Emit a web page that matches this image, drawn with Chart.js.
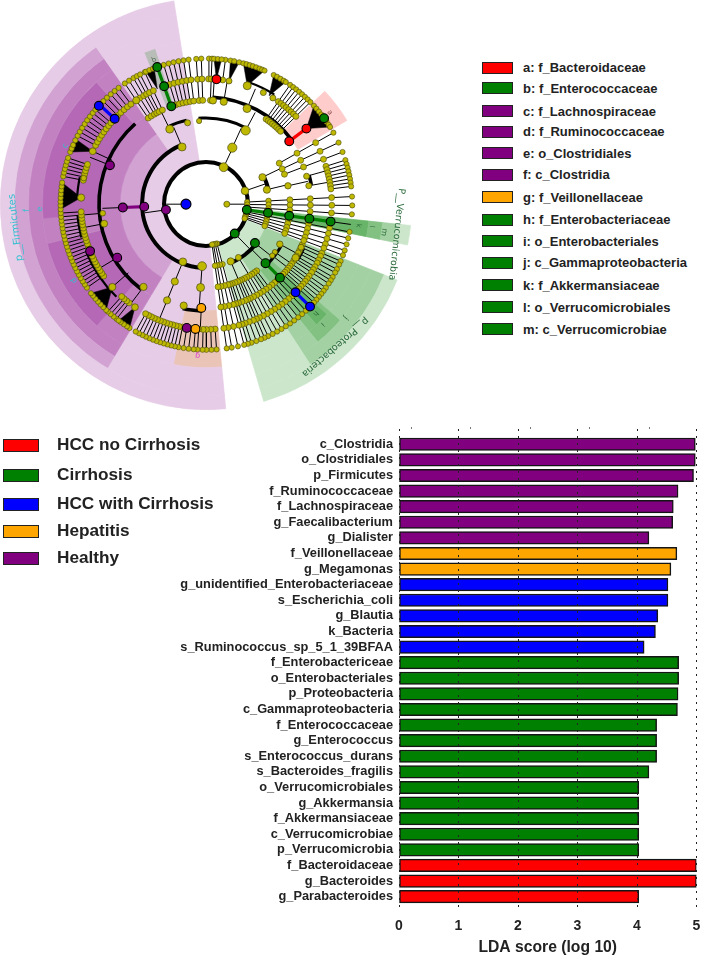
<!DOCTYPE html>
<html>
<head>
<meta charset="utf-8">
<title>LEfSe cladogram and LDA scores</title>
<script src="https://cdn.jsdelivr.net/npm/chart.js@4"></script>
<style>
	html, body {margin: 0; padding: 0; background: #fff; overflow: hidden;}
	body {position: relative; width: 709px; height: 957px; font-family: "Liberation Sans", Arial, sans-serif;}
	canvas {position: absolute;}
	.swatch {position: absolute; box-sizing: border-box; border: 1.5px solid #222;}
	.legendText {position: absolute; font-weight: bold; color: #222; white-space: nowrap; line-height: 1;}
</style>
</head>
<body>
<canvas id="shadeChart" width="412" height="412" style="left:0;top:-2px"></canvas>
<canvas id="arcChart" width="264" height="264" style="left:74px;top:72px"></canvas>
<canvas id="treeChart" width="440" height="420" style="left:0;top:0"></canvas>
<canvas id="barChart" width="709" height="532" style="left:0;top:425px"></canvas>
<script>
'use strict';

// bar chart
const barLabels = ['c_Clostridia', 'o_Clostridiales', 'p_Firmicutes', 'f_Ruminococcaceae', 'f_Lachnospiraceae', 'g_Faecalibacterium', 'g_Dialister',
	'f_Veillonellaceae', 'g_Megamonas',
	'g_unidentified_Enterobacteriaceae', 's_Escherichia_coli', 'g_Blautia', 'k_Bacteria', 's_Ruminococcus_sp_5_1_39BFAA',
	'f_Enterobactericeae', 'o_Enterobacteriales', 'p_Proteobacteria', 'c_Gammaproteobacteria', 'f_Enterococcaceae', 'g_Enterococcus', 's_Enterococcus_durans', 's_Bacteroides_fragilis',
	'o_Verrucomicrobiales', 'g_Akkermansia', 'f_Akkermansiaceae', 'c_Verrucomicrobiae', 'p_Verrucomicrobia',
	'f_Bacteroidaceae', 'g_Bacteroides', 'g_Parabacteroides'];
const barValues = [4.98, 4.98, 4.95, 4.69, 4.61, 4.60, 4.20,
	4.67, 4.57,
	4.52, 4.52, 4.35, 4.31, 4.12,
	4.70, 4.70, 4.69, 4.68, 4.33, 4.33, 4.33, 4.20,
	4.03, 4.03, 4.03, 4.03, 4.03,
	5.0, 5.0, 4.03];
const barGroups = ['Healthy', 'Healthy', 'Healthy', 'Healthy', 'Healthy', 'Healthy', 'Healthy',
	'Hepatitis', 'Hepatitis',
	'HCC with Cirrhosis', 'HCC with Cirrhosis', 'HCC with Cirrhosis', 'HCC with Cirrhosis', 'HCC with Cirrhosis',
	'Cirrhosis', 'Cirrhosis', 'Cirrhosis', 'Cirrhosis', 'Cirrhosis', 'Cirrhosis', 'Cirrhosis', 'Cirrhosis',
	'Cirrhosis', 'Cirrhosis', 'Cirrhosis', 'Cirrhosis', 'Cirrhosis',
	'HCC no Cirrhosis', 'HCC no Cirrhosis', 'HCC no Cirrhosis'];
const groupNames = ['HCC no Cirrhosis', 'Cirrhosis', 'HCC with Cirrhosis', 'Hepatitis', 'Healthy'];
const groupColors = ['#ff0000', '#008000', '#0000ff', '#ffa500', '#800080'];
const xTicks = [0, 1, 2, 3, 4, 5];

// cladogram legend
const cladeNames = ['a: f_Bacteroidaceae', 'b: f_Enterococcaceae', 'c: f_Lachnospiraceae', 'd: f_Ruminococcaceae', 'e: o_Clostridiales', 'f: c_Clostridia',
	'g: f_Veillonellaceae', 'h: f_Enterobacteriaceae', 'i: o_Enterobacteriales', 'j: c_Gammaproteobacteria', 'k: f_Akkermansiaceae', 'l: o_Verrucomicrobiales', 'm: c_Verrucomicrobiae'];
const cladeGroups = ['HCC no Cirrhosis', 'Cirrhosis', 'Healthy', 'Healthy', 'Healthy', 'Healthy',
	'Hepatitis', 'Cirrhosis', 'Cirrhosis', 'Cirrhosis', 'Cirrhosis', 'Cirrhosis', 'Cirrhosis'];

// shaded sectors, one list per radial band from outside in: [from deg, to deg, shade]
const band192to206 = [[96, 101.5, 'g1'], [111.7, 163.7, 'g1'], [174.5, 351, 'p1']];
const band178to192 = [[96, 101.5, 'g2'], [111.7, 147, 'g2'], [147, 163.7, 'g1'], [174.5, 211, 'p1'], [211, 325, 'p2'], [325, 351, 'p1']];
const band164to178 = [[96, 101.5, 'g3'], [111.7, 131, 'g2'], [131, 141, 'g3'], [141, 147, 'g2'], [147, 163.7, 'g1'], [174.5, 211, 'p1'], [211, 325, 'p3'], [325, 351, 'p1']];
const band107to164 = [[46.5, 59.3, 'r1'], [96, 101.5, 'g4'], [111.7, 131, 'g2'], [131, 132.5, 'g3'], [132.5, 137.5, 'g4'], [137.5, 141, 'g3'], [141, 147, 'g2'], [147, 163.7, 'g1'],
	[174.5, 191.5, 'o1'], [191.5, 211, 'p1'], [211, 222, 'p3'], [222, 256, 'p4'], [256, 265, 'p3'], [265, 318, 'p4'], [318, 325, 'p3'], [325, 338, 'p1'], [338, 342, 'x1'], [342, 351, 'p1']];
const band86to107 = [[96, 101.5, 'g3'], [111.7, 131, 'g2'], [131, 141, 'g3'], [141, 147, 'g2'], [147, 163.7, 'g1'], [174.5, 211, 'p1'], [211, 325, 'p3'], [325, 351, 'p1']];
const band64to86 = [[96, 101.5, 'g2'], [111.7, 147, 'g2'], [147, 163.7, 'g1'], [174.5, 211, 'p1'], [211, 325, 'p2'], [325, 351, 'p1']];
const band42to64 = [[96, 101.5, 'g1'], [111.7, 163.7, 'g1'], [174.5, 351, 'p1']];

// tree, angles in degrees clockwise from the top; levels 0 kingdom .. 6 species
const arcsLevel1 = [[0, 360]];
const arcsLevel2 = [[64.3, 76.5], [128.7, 157], [184, 337]];
const arcsLevel3 = [[0, 28], [118.6, 135], [334, 347], [355, 360]];
const arcsLevel4 = [[3.6, 52.8], [74.4, 79.8], [114.5, 121], [182.8, 192.6], [217.2, 318.6]];
const arcsLevel5 = [[19, 32], [224, 248], [255, 265], [273, 282]];

const spokes5to6 = [1, 7.5, 72.4, 74, 75.5, 77, 78.5, 80, 81.5, 83,
	176, 178, 180, 181.5, 183.5, 185, 187, 189, 191, 192.5, 194, 195.5, 197, 198.5, 200, 201.5, 203, 204.5, 206, 207.5, 209,
	218, 219.5, 221, 222.5, 235, 236.5, 238, 239.5, 241, 242.5, 244, 245.5, 247, 248.5, 250, 251.5, 253, 254.5, 256, 257.5, 259, 260.5, 262, 263.5, 265, 266.5,
	281, 282.5, 284, 285.5, 287, 288.5, 298, 299.8, 301.6, 303.4, 305.2, 307, 308.8, 310.5, 315, 317, 319, 321, 323];
const spokes4to6 = [2.2, 35, 36.5, 38, 39.5, 41, 42.5, 44, 45.5,
	113, 114.5, 116.5, 118, 120, 121.5, 123, 125, 126.5, 128, 129.5, 131, 132.5, 137, 139, 141,
	326, 328, 330, 331.5, 333, 335, 343, 345, 347, 349, 351, 353, 356, 358];
const spokes3to6 = [60.6, 65, 69, 143, 145, 147, 149, 151, 153, 155, 156.5, 158, 160, 162, 163.5];
const spokes1to6 = [87, 90.5, 94, 101, 103.5, 106, 108.5, 110.5, 165, 167.5, 170, 172];
const links = [[270, 0, 1], [90, 0, 1], [262, 1, 2], [25, 1, 2], [71, 1, 2], [136, 1, 2],
	[337, 2, 3], [24.6, 2, 3], [64.3, 2, 3], [76.5, 2, 3], [128.7, 2, 3], [149, 2, 3], [157, 2, 3], [184, 2, 4], [202.2, 2, 5], [135, 2, 3],
	[267.7, 3, 4], [28, 3, 4], [334, 3, 4], [77.3, 3, 4], [118.6, 3, 4], [125, 3, 4], [128, 3, 4],
	[3.6, 4, 5], [9.6, 4, 5], [23, 4, 5], [135, 4, 5], [182.8, 4, 5], [217.2, 4, 5], [228.6, 4, 5], [239, 4, 5], [259.2, 4, 5], [265, 4, 5], [292, 4, 5], [295, 4, 5], [74.4, 4, 5], [79.8, 4, 5], [98, 5, 6]];
const wedges = [[4.6, 5, 3, 6], [10.4, 5, 9.5, 13], [19, 5, 14.7, 23.5], [30, 5, 27.5, 33], [52.9, 5, 47.5, 58],
	[214.7, 5, 211.8, 217], [228.6, 5, 223.4, 232.3], [273, 5, 268, 278.5], [295, 5, 291, 296.5], [337, 5, 335.5, 339]];
const wedgeLeaves = [3, 4.5, 6, 9.5, 11, 13, 14.7, 16, 17.3, 18.6, 20, 21.4, 22.5, 23.5, 27.5, 29, 30.5, 32, 33, 47.5, 49, 50.5, 52, 55.5, 57, 58,
	211.8, 213, 214.5, 216, 217, 223.4, 225, 226.5, 228, 229.5, 231, 232.3, 268, 269.5, 271, 272.5, 274, 275.5, 277, 278.5, 291, 292.5, 294, 296, 335.5, 337, 338.5];
// yellow nodes drawn larger: [angle, level, radius]
const bigNodes = [[90, 0, 3], [25, 1, 4.4], [71, 1, 3.8],
	[24.6, 2, 4.6], [337, 2, 4], [202.2, 2, 3.8], [184, 2, 4.4], [64.3, 2, 3.6], [76.5, 2, 3.6], [157, 2, 3.6], [149, 2, 3],
	[334, 3, 4], [347, 3, 3], [355, 3, 2.6], [28, 3, 4.6], [184, 3, 4], [202.2, 3, 3.6], [77.3, 3, 3.2], [118.6, 3, 3.2], [125, 3, 2.6], [128, 3, 2.6],
	[3.6, 4, 3.6], [9.6, 4, 3.6], [23, 4, 4], [192.6, 4, 3.6], [202.2, 4, 3.6], [217.2, 4, 3.6], [259.2, 4, 3.4], [265, 4, 2.8], [121, 4, 3.6], [114.5, 4, 3], [74.4, 4, 3], [79.8, 4, 3],
	[19, 5, 4], [27, 5, 3], [32, 5, 3], [273, 5, 3.6], [295, 5, 3.4], [214.7, 5, 3.4], [228.6, 5, 3.6], [326, 5, 3.6], [10.4, 5, 3], [282, 5, 2.8]];
// coloured nodes: [angle, level, group]
const markedNodes = [[270, 0, 'HCC with Cirrhosis'],
	[262, 1, 'Healthy'], [267.7, 2, 'Healthy'], [267.7, 3, 'Healthy'], [292, 4, 'Healthy'], [239, 4, 'Healthy'], [248, 5, 'Healthy'], [189, 5, 'Healthy'],
	[182.8, 4, 'Hepatitis'], [185, 5, 'Hepatitis'],
	[98, 1, 'Cirrhosis'], [98, 2, 'Cirrhosis'], [98, 3, 'Cirrhosis'], [98, 4, 'Cirrhosis'], [98, 5, 'Cirrhosis'],
	[136, 1, 'Cirrhosis'], [128.7, 2, 'Cirrhosis'], [135, 3, 'Cirrhosis'], [135, 4, 'Cirrhosis'],
	[340.3, 4, 'Cirrhosis'], [340.3, 5, 'Cirrhosis'], [340.3, 6, 'Cirrhosis'], [53.8, 6, 'Cirrhosis'],
	[134.7, 5, 'HCC with Cirrhosis'], [134.7, 6, 'HCC with Cirrhosis'], [313, 5, 'HCC with Cirrhosis'], [312.5, 6, 'HCC with Cirrhosis'],
	[4.6, 5, 'HCC no Cirrhosis'], [52.8, 4, 'HCC no Cirrhosis'], [52.9, 5, 'HCC no Cirrhosis']];
// thick coloured branches: [angle, from level, to level, group]
const markedBranches = [[98, 1, 5, 'Cirrhosis'], [135, 3, 4, 'Cirrhosis'], [340.3, 4, 6, 'Cirrhosis'],
	[134.7, 5, 6, 'HCC with Cirrhosis'], [313, 5, 6, 'HCC with Cirrhosis'],
	[267.7, 2, 3, 'Healthy'], [52.8, 4, 5, 'HCC no Cirrhosis']];
// labels on the cladogram: [text, angle, radius, rotation deg, font size, colour key]
const treeLabels = [['p__Firmicutes', 263, 197.5, -97, 10, 'cyan'], ['f', 268, 185, -92, 8, 'cyan'], ['e', 268.3, 171, -92, 8, 'cyan'], ['c', 292.5, 157, -67, 8, 'cyan'], ['d', 240, 157, -120, 8, 'cyan'],
	['a', 53.4, 158, 53, 7, 'red'], ['b', 340, 158, -20, 7, 'grey'], ['g', 183.3, 156, 183, 8, 'pink'],
	['h', 135, 159, 135, 7, 'green'], ['i', 136, 172, 136, 7, 'green'], ['j', 129.3, 185, 129, 8, 'green'], ['k', 98, 158, 98, 7, 'green'], ['l', 97.7, 171.5, 98, 7, 'green'], ['m', 99, 185, 99, 8, 'green'],
	['P__Verrucomicrobia', 99, 198, 96, 9.5, 'green'], ['p__Proteobacteria', 138, 198, 139, 9.5, 'green']];

const groupColor = name => groupColors[groupNames.indexOf(name)];

// html legends
const addLegend = (names, colors, ys, left, boxWidth, boxHeight, textLeft, fontSize) => {
	names.forEach((name, i) => {
		const box = document.createElement('div');
		box.className = 'swatch';
		box.style.cssText = `left:${left}px;top:${ys[i] - boxHeight / 2}px;width:${boxWidth}px;height:${boxHeight}px;background:${colors[i]}`;
		document.body.appendChild(box);
		const text = document.createElement('div');
		text.className = 'legendText';
		text.textContent = name;
		text.style.cssText = `left:${textLeft}px;top:${ys[i] - fontSize / 2}px;font-size:${fontSize}px`;
		document.body.appendChild(text);
	});
}
addLegend(groupNames, groupColors, [445, 475, 504, 531, 558], 3, 36, 13, 57, 17.2);
addLegend(cladeNames, cladeGroups.map(groupColor), [67.7, 88.3, 111, 131.7, 153, 174.7, 197, 219.7, 241, 262.7, 285, 307, 329], 482, 31, 12, 523, 13);

// shading and arcs are doughnut rings, gaps between sectors stay transparent
const toSlices = (sectors, colorOf) => {
	const data = [], backgroundColor = [];
	let at = 0;
	sectors.forEach(([from, to, key]) => {
		if (from > at) {
			data.push(from - at);
			backgroundColor.push('rgba(0,0,0,0)');
		}
		data.push(to - from);
		backgroundColor.push(colorOf(key));
		at = to;
	});
	if (at < 360) {
		data.push(360 - at);
		backgroundColor.push('rgba(0,0,0,0)');
	}
	return {data, backgroundColor, borderColor: backgroundColor};
}

const ringOptions = cutout => ({
	responsive: false,
	animation: false,
	cutout: cutout,
	events: [],
	layout: {padding: 0},
	plugins: {legend: {display: false}, tooltip: {enabled: false}},
	elements: {arc: {borderWidth: 0}},
});

const shades = {p1: '#e6cce6', p2: '#d2a3d2', p3: '#c282c2', p4: '#b568b5', g1: '#cce6cc', g2: '#a3d1a3', g3: '#82c182', g4: '#68b468', r1: '#ffcccc', o1: '#ebc4b8', x1: '#b8bdb8'};
const shadeBands = [[band192to206, 14], [band178to192, 14], [band164to178, 14], [band107to164, 57], [band86to107, 21], [band64to86, 22], [band42to64, 22]];
new Chart(document.getElementById('shadeChart'), {
	type: 'doughnut',
	data: {
		// a hairline border in the slice colour hides the seams between slices and rings
		datasets: shadeBands.map(([sectors, weight]) => ({...toSlices(sectors, key => shades[key]), weight, borderWidth: 0.7})),
	},
	options: ringOptions(42),
});

const arcColor = () => '#000';
const arcBands = [[arcsLevel5, 130.1, 127.9], [arcsLevel4, 108.8, 105.2], [arcsLevel3, 87.5, 84.5], [arcsLevel2, 66, 62], [arcsLevel1, 44, 40]];
const arcDatasets = [];
let lastEdge = 132;
arcBands.forEach(([arcs, outer, inner]) => {
	arcDatasets.push({data: [1], backgroundColor: ['rgba(0,0,0,0)'], weight: lastEdge - outer});
	arcDatasets.push({...toSlices(arcs, arcColor), weight: outer - inner});
	lastEdge = inner;
});
new Chart(document.getElementById('arcChart'), {
	type: 'doughnut',
	data: {datasets: arcDatasets},
	options: ringOptions(40),
});

// tree on a scatter chart whose scale is centred on the root
const levelRadius = [21, 42, 64, 86, 107, 129, 150];
const polar = (angle, radius) => {
	const t = angle * Math.PI / 180;
	return {x: radius * Math.sin(t), y: radius * Math.cos(t)};
}
const nodeAt = (angle, level) => polar(angle, levelRadius[level]);

const lineParts = [];
const nodesByLevel = levelRadius.map(() => []);
const addSpoke = (angle, from, to) => {
	lineParts.push(nodeAt(angle, from), nodeAt(angle, to), {x: null, y: null});
}
const addLineage = (angle, from, to) => {
	addSpoke(angle, from, to);
	for (let level = from; level <= to; level++) nodesByLevel[level].push(nodeAt(angle, level));
}
spokes5to6.forEach(a => addLineage(a, 5, 6));
spokes4to6.forEach(a => addLineage(a, 4, 6));
spokes3to6.forEach(a => addLineage(a, 3, 6));
spokes1to6.forEach(a => addLineage(a, 1, 6));
links.forEach(([a, from, to]) => addSpoke(a, from, to));
wedgeLeaves.forEach(a => nodesByLevel[6].push(nodeAt(a, 6)));

const nodeRadius = [2.5, 2.7, 2.8, 3, 3, 3, 2.6];
const datasets = [];

datasets.push({
	label: 'marked',
	data: markedNodes.map(([a, level]) => nodeAt(a, level)),
	showLine: false,
	pointRadius: markedNodes.map(([, level]) => level === 0 ? 5 : 4.4),
	pointBackgroundColor: markedNodes.map(([, , group]) => groupColor(group)),
	pointBorderColor: '#000',
	pointBorderWidth: 1.1,
});
datasets.push({
	label: 'big',
	data: bigNodes.map(([a, level]) => nodeAt(a, level)),
	showLine: false,
	pointRadius: bigNodes.map(n => n[2]),
	pointBackgroundColor: '#bfb800',
	pointBorderColor: '#4a4a10',
	pointBorderWidth: 0.7,
});
nodesByLevel.forEach((nodes, level) => {
	datasets.push({
		label: 'level' + level,
		data: nodes,
		showLine: false,
		pointRadius: nodeRadius[level],
		pointBackgroundColor: '#bfb800',
		pointBorderColor: '#4a4a10',
		pointBorderWidth: 0.6,
	});
});
markedBranches.forEach(([a, from, to, group]) => {
	datasets.push({
		label: 'branch',
		data: [nodeAt(a, from), nodeAt(a, to)],
		showLine: true,
		borderColor: groupColor(group),
		borderWidth: 3.2,
		pointRadius: 0,
	});
});
datasets.push({
	label: 'spokes',
	data: lineParts,
	showLine: true,
	spanGaps: false,
	borderColor: '#000',
	borderWidth: 1,
	pointRadius: 0,
});
wedges.forEach(([apex, level, from, to]) => {
	datasets.push({
		label: 'wedge',
		data: [nodeAt(apex, level), nodeAt(from, 6), nodeAt(to, 6), nodeAt(apex, level)],
		showLine: true,
		fill: 'shape',
		backgroundColor: '#000',
		borderColor: '#000',
		borderWidth: 0.5,
		pointRadius: 0,
	});
});

const labelColors = {cyan: '#33bfd0', green: '#2a6a3a', red: '#8a4a4a', grey: '#5a6a5a', pink: '#d848c8'};
const treeLabelPlugin = {
	id: 'treeLabels',
	afterDatasetsDraw(chart) {
		const {ctx, scales} = chart;
		treeLabels.forEach(([text, angle, radius, rotation, size, color]) => {
			const p = polar(angle, radius);
			ctx.save();
			ctx.translate(scales.x.getPixelForValue(p.x), scales.y.getPixelForValue(p.y));
			ctx.rotate(rotation * Math.PI / 180);
			ctx.font = size + 'px "DejaVu Sans"';
			ctx.fillStyle = labelColors[color];
			ctx.textAlign = 'center';
			ctx.textBaseline = 'middle';
			ctx.fillText(text, 0, 0);
			ctx.restore();
		});
	},
};

new Chart(document.getElementById('treeChart'), {
	type: 'scatter',
	data: {datasets},
	plugins: [treeLabelPlugin],
	options: {
		responsive: false,
		animation: false,
		events: [],
		clip: false,
		layout: {padding: 0},
		plugins: {legend: {display: false}, tooltip: {enabled: false}},
		scales: {
			x: {type: 'linear', min: -206, max: 234, display: false},
			y: {type: 'linear', min: -216, max: 204, display: false},
		},
	},
});

// tick labels must not push the plot area in, it has to land on fixed pixels
const noScalePadding = scale => {
	scale.paddingTop = 0;
	scale.paddingBottom = 0;
	scale.paddingLeft = 0;
	scale.paddingRight = 0;
}

// horizontal bars
new Chart(document.getElementById('barChart'), {
	type: 'bar',
	data: {
		datasets: [{
			data: barValues.map((v, i) => ({x: v, y: i})),
			backgroundColor: barGroups.map(groupColor),
			borderColor: '#151515',
			borderWidth: 1.5,
			borderSkipped: false,
			barThickness: 12.5,
		}],
	},
	options: {
		indexAxis: 'y',
		responsive: false,
		animation: false,
		events: [],
		layout: {padding: {top: 0, right: 12.5, bottom: 0, left: 0}},
		plugins: {legend: {display: false}, tooltip: {enabled: false}},
		scales: {
			x: {
				type: 'linear',
				position: 'bottom',
				min: 0,
				max: 5,
				afterBuildTicks: scale => {scale.ticks = xTicks.map(value => ({value}));},
				afterFit: scale => {scale.height = 46; noScalePadding(scale);},
				border: {display: false, dash: [2, 5]},
				grid: {z: 1, color: '#222', lineWidth: 1, drawTicks: false},
				ticks: {color: '#222', padding: 7, font: {family: '"Liberation Sans"', weight: 'bold', size: 14}},
				title: {display: true, text: 'LDA score (log 10)', color: '#222', padding: {top: 3, bottom: 0}, font: {family: '"Liberation Sans"', weight: 'bold', size: 15.7}},
			},
			xTop: {
				type: 'linear',
				axis: 'x',
				position: 'top',
				min: -0.21,
				max: 4.79,
				afterBuildTicks: scale => {scale.ticks = xTicks.slice(0, 5).map(value => ({value}));},
				afterFit: scale => {scale.height = 4; noScalePadding(scale);},
				border: {display: false},
				grid: {drawOnChartArea: false, color: '#777', tickLength: 2},
				ticks: {display: false},
			},
			y: {
				type: 'linear',
				offset: false,
				min: -0.98,
				max: 29.92,
				reverse: true,
				afterBuildTicks: scale => {scale.ticks = barLabels.map((_, i) => ({value: i}));},
				afterFit: scale => {scale.width = 399; noScalePadding(scale);},
				border: {display: false},
				grid: {display: false, drawTicks: false},
				ticks: {
					autoSkip: false,
					color: '#222',
					padding: 6,
					font: {family: '"Liberation Sans"', weight: 'bold', size: 12.8},
					callback: value => barLabels[value],
				},
			},
		},
	},
});
</script>
</body>
</html>
